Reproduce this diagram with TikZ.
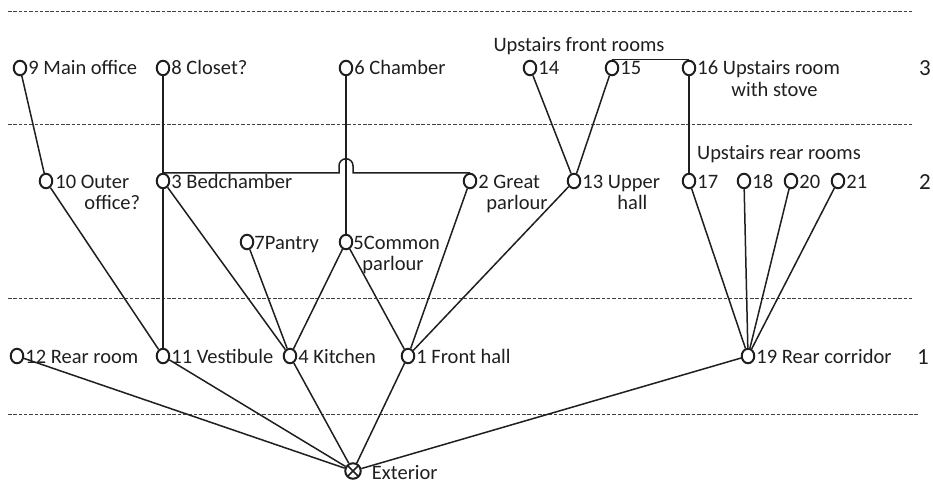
\documentclass[tikz,border=0pt]{standalone}
\usepackage{fontspec}
\setmainfont{Carlito}
\usetikzlibrary{calc,shapes.geometric}
\definecolor{ink}{gray}{0.12}
\begin{document}
\begin{tikzpicture}[x=1pt,y=-1pt,
  room/.style={ellipse,draw=ink,line width=2pt,minimum width=12.5pt,minimum height=14.5pt,inner sep=0pt},
  exit/.style={circle,draw=ink,line width=2pt,minimum size=15.5pt,inner sep=0pt,
    path picture={\draw[ink,line width=1.6pt]
      ($(path picture bounding box.center)+(45:9)$) -- ($(path picture bounding box.center)+(225:9)$)
      ($(path picture bounding box.center)+(135:9)$) -- ($(path picture bounding box.center)+(315:9)$);}},
  tag/.style={anchor=base west,inner sep=0pt,text=ink,align=left,
    font=\fontsize{20.5}{21}\selectfont},
  note/.style={anchor=base,inner sep=0pt,text=ink,font=\fontsize{20.5}{21}\selectfont},
  level/.style={inner sep=0pt,text=ink,font=\fontsize{23}{25}\selectfont},
  link/.style={draw=ink,line width=1.5pt},
  floor/.style={draw=ink!85,line width=0.8pt,dash pattern=on 3.5pt off 1.8pt}]
\useasboundingbox (0,0) rectangle (933,484);

% floor separators
\coordinate (fA1) at (8,11);    \coordinate (fA2) at (912,11);
\coordinate (fB1) at (8,124.5); \coordinate (fB2) at (912,124.5);
\coordinate (fC1) at (8,298.5); \coordinate (fC2) at (912,298.5);
\coordinate (fD1) at (8,414.5); \coordinate (fD2) at (919,414.5);
\draw[floor] (fA1) -- (fA2);
\draw[floor] (fB1) -- (fB2);
\draw[floor] (fC1) -- (fC2);
\draw[floor] (fD1) -- (fD2);

% level numbers
\node[level] (lv3) at (925,68) {3};
\node[level] (lv2) at (925,182) {2};
\node[level] (lv1) at (923,357) {1};

% top row
\node[room] (n9)  at (20,68) {};
\node[room] (n8)  at (163,68) {};
\node[room] (n6)  at (346,68) {};
\node[room] (n14) at (530,68) {};
\node[room] (n15) at (612,68) {};
\node[room] (n16) at (689,68) {};

% middle row
\node[room] (n10) at (46,181) {};
\node[room] (n3)  at (163,181) {};
\node[room] (n2)  at (470,181) {};
\node[room] (n13) at (574,181) {};
\node[room] (n17) at (689,181) {};
\node[room] (n18) at (744,181) {};
\node[room] (n20) at (791,181) {};
\node[room] (n21) at (838,181) {};
\node[room] (n7)  at (247,242) {};
\node[room] (n5)  at (346,242) {};

% ground row
\node[room] (n12) at (17,356) {};
\node[room] (n11) at (163,356) {};
\node[room] (n4)  at (290,356) {};
\node[room] (n1)  at (408,356) {};
\node[room] (n19) at (748,356) {};

\node[exit] (ext) at (353,471) {};

% room names (two-line names sit on the baseline of their last line)
\node[tag] (t9)  at ($(n9.east)+(1,7)$)  {9 Main office};
\node[tag] (t8)  at ($(n8.east)+(1,7)$)  {8 Closet?};
\node[tag] (t6)  at ($(n6.east)+(1,7)$)  {6 Chamber};
\node[tag] (t14) at ($(n14.east)+(1,7)$) {14};
\node[tag] (t15) at ($(n15.east)+(1,7)$) {15};
\node[tag] (t16) at ($(n16.east)+(1,28)$) {16 Upstairs room\\\hspace*{34pt}with stove};
\node[tag] (t10) at ($(n10.east)+(2,28)$) {10 Outer\\\hspace*{29pt}office?};
\node[tag] (t3)  at ($(n3.east)+(1,7)$)  {3 Bedchamber};
\node[tag] (t2)  at ($(n2.east)+(1,28)$)  {2 Great\\\hspace*{8pt}parlour};
\node[tag] (t13) at ($(n13.east)+(1,28)$) {13 Upper\\\hspace*{35pt}hall};
\node[tag] (t17) at ($(n17.east)+(1,7)$) {17};
\node[tag] (t18) at ($(n18.east)+(1,7)$) {18};
\node[tag] (t20) at ($(n20.east)+(1,7)$) {20};
\node[tag] (t21) at ($(n21.east)+(1,7)$) {21};
\node[tag] (t7)  at ($(n7.east)+(0,7)$)  {7Pantry};
\node[tag] (t5)  at ($(n5.east)+(0,28)$)  {5Common\\\hspace*{9pt}parlour};
\node[tag] (t12) at ($(n12.east)+(1,7)$) {12 Rear room};
\node[tag] (t11) at ($(n11.east)+(1,7)$) {11 Vestibule};
\node[tag] (t4)  at ($(n4.east)+(1,7)$)  {4 Kitchen};
\node[tag] (t1)  at ($(n1.east)+(1,7)$)  {1 Front hall};
\node[tag] (t19) at ($(n19.east)+(1,7)$) {19 Rear corridor};
\node[tag] (tx)  at ($(ext.east)+(10,8)$) {Exterior};

% group notes
\node[note] (gfront) at (579,52) {Upstairs front rooms};
\node[note] (grear)  at (779,159) {Upstairs rear rooms};

% connections
\draw[link] (n9) -- (n10);
\draw[link] (n8) -- (n3);
\draw[link] (n6) -- (n5);
\draw[link] (n3) -- (n11);
\draw[link] (n10) -- (n11);
\draw[link] (n3) -- (n4);
\draw[link] (n7) -- (n4);
\draw[link] (n5) -- (n4);
\draw[link] (n5) -- (n1);
\draw[link] (n2) -- (n1);
\draw[link] (n13) -- (n1);
\draw[link] (n14) -- (n13);
\draw[link] (n15) -- (n13);
\draw[link] (n15.north) -- (n16.north);
\draw[link] (n16) -- (n17);
\draw[link] (n17) -- (n19);
\draw[link] (n18) -- (n19);
\draw[link] (n20) -- (n19);
\draw[link] (n21) -- (n19);
\draw[link] (n12) -- (ext);
\draw[link] (n11) -- (ext);
\draw[link] (n4) -- (ext);
\draw[link] (n1) -- (ext);
\draw[link] (n19) -- (ext);

% bedchamber to great parlour, hopping over the chamber line
\coordinate (hop) at (339,0);
\draw[link] (n3.north) -- (n3.north -| hop) -- ++(0,-7)
  arc[start angle=180,end angle=360,radius=7] -- ++(0,7) -- (n2.north);
\end{tikzpicture}
\end{document}
